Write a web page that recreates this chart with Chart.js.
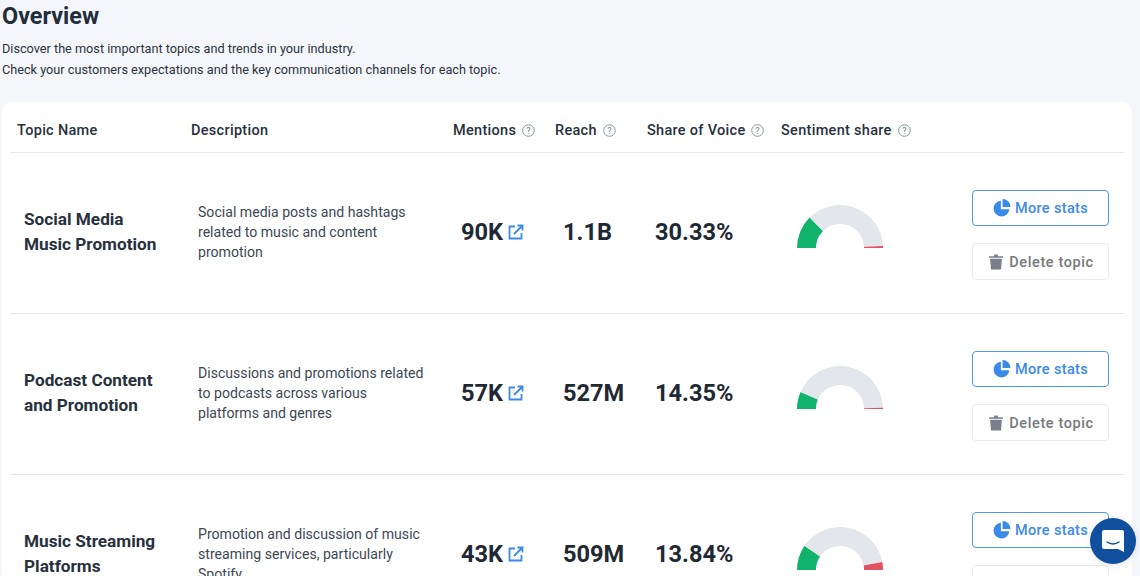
<!DOCTYPE html>
<html>
<head>
<meta charset="utf-8">
<title>Overview</title>
<script src="https://cdn.jsdelivr.net/npm/chart.js@4"></script>
<style>
  html, body { margin: 0; padding: 0; }
  body { width: 1140px; height: 576px; overflow: hidden; position: relative; background: #f5f6fa; font-family: Roboto, sans-serif; color: #1f2933; }
  h1 { position: absolute; left: 2px; top: 1px; margin: 0; font-size: 23.4px; line-height: 30px; font-weight: 700; color: #1f2d3d; }
  .intro { position: absolute; left: 2px; top: 38px; font-size: 12.7px; line-height: 21px; color: #2a3441; }
  .card { position: absolute; left: 2px; top: 102px; width: 1130px; height: 480px; background: #fff; border-radius: 10px; }
  .abs { position: absolute; white-space: nowrap; }
  .th { top: 122px; font-size: 14.5px; line-height: 17px; font-weight: 500; letter-spacing: .3px; color: #27313d; display: flex; align-items: center; gap: 6px; }
  .rule { position: absolute; left: 10px; width: 1114px; height: 1px; background: #e4e7eb; }
  .name { left: 24px; font-size: 17.2px; line-height: 24.5px; font-weight: 700; color: #27313d; }
  .desc { left: 198px; font-size: 14.1px; line-height: 20px; color: #3d4854; }
  .num { font-size: 23.6px; line-height: 28px; font-weight: 700; color: #1f2933; }
  .btn { left: 972px; width: 137px; box-sizing: border-box; border-radius: 4px; background: #fff; display: flex; align-items: center; justify-content: center; font-size: 14.5px; font-weight: 500; }
  .more { height: 36px; gap: 4px; letter-spacing: .35px; border: 1px solid #4a9af0; color: #3b8ae8; }
  .del { height: 37px; gap: 6px; padding: 1px 0 0 2px; letter-spacing: .6px; border: 1px solid #e9ecef; color: #77797c; }
  .gauge { position: absolute; left: 797px; width: 86px; height: 43px; }
  .chat { position: absolute; left: 1090px; top: 518px; width: 46px; height: 46px; border-radius: 50%; background: #0f4f9e; display: flex; align-items: center; justify-content: center; box-shadow: 0 1px 6px rgba(0,0,0,.12); }
</style>
</head>
<body>
<h1>Overview</h1>
<div class="intro">Discover the most important topics and trends in your industry.<br>Check your customers expectations and the key communication channels for each topic.</div>
<div class="card"></div>
<div id="table"></div>
<div class="chat">
  <svg width="24" height="24" viewBox="0 0 24 24"><path d="M3 1h18a2 2 0 0 1 2 2v20l-6-3H3a2 2 0 0 1-2-2V3a2 2 0 0 1 2-2z" fill="#fff"/><path d="M6 13c3.500 2.600 8.500 2.600 12 0" fill="none" stroke="#0f4f9e" stroke-width="1.500" stroke-linecap="round"/></svg>
</div>
<script>
  /* ── Data ────────────────────────────────────────────────── */
  const headers = ['Topic Name', 'Description', 'Mentions', 'Reach', 'Share of Voice', 'Sentiment share'];
  const topics = [
    ['Social Media', 'Music Promotion'],
    ['Podcast Content', 'and Promotion'],
    ['Music Streaming', 'Platforms']
  ];
  const descriptions = [
    ['Social media posts and hashtags', 'related to music and content', 'promotion'],
    ['Discussions and promotions related', 'to podcasts across various', 'platforms and genres'],
    ['Promotion and discussion of music', 'streaming services, particularly', 'Spotify']
  ];
  const mentions = ['90K', '57K', '43K'];
  const reach = ['1.1B', '527M', '509M'];
  const shareOfVoice = ['30.33%', '14.35%', '13.84%'];
  const sentimentLabels = ['Positive', 'Neutral', 'Negative'];
  const positive = [25, 13, 19];
  const neutral = [73.5, 86, 75];
  const negative = [1.5, 1, 6];

  /* ── Icons ───────────────────────────────────────────────── */
  const helpIcon = '<svg width="13" height="13" viewBox="0 0 13 13"><circle cx="6.500" cy="6.500" r="5.800" fill="none" stroke="#8c96a3" stroke-width="1"/><text x="6.500" y="9.600" text-anchor="middle" font-size="9" font-family="Roboto" fill="#8c96a3">?</text></svg>';
  const linkIcon = '<svg width="16" height="16" viewBox="0 0 16 16" fill="none" stroke="#3b8ae8" stroke-width="1.800"><path d="M7 2.500H1.500v12h12V9"/><path d="M6 10l8-8M9.500 1.500h5v5"/></svg>';
  const pieIcon = '<svg width="18" height="18" viewBox="0 0 16 16" fill="#3b8ae8"><path d="M7 1.500a7 7 0 1 0 7.500 7.500H7z"/><path d="M8.500 0a7 7 0 0 1 7 7h-7z"/></svg>';
  const trashIcon = '<svg width="14" height="16" viewBox="0 0 13 15" fill="#77808a"><path d="M0 2h4.500l.5-1.500h3L8.500 2H13v1.500H0z"/><path d="M1 4.500h11l-.8 10H1.800z"/></svg>';

  /* ── Table ───────────────────────────────────────────────── */
  const table = document.getElementById('table');
  const headerLeft = [17, 191, 453, 555, 647, 781];
  const rowTop = [152, 313, 474];

  function add(cls, left, top, html) {
    const el = document.createElement('div');
    el.className = 'abs ' + cls;
    if (left !== null) el.style.left = left + 'px';
    if (top !== null) el.style.top = top + 'px';
    el.innerHTML = html;
    table.appendChild(el);
    return el;
  }

  headers.forEach((h, i) => add('th', headerLeft[i], null, h + (i > 1 ? helpIcon : '')));

  rowTop.forEach((y, i) => {
    const rule = document.createElement('div');
    rule.className = 'rule';
    rule.style.top = y + 'px';
    table.appendChild(rule);

    add('name', null, y + 55, topics[i].join('<br>'));
    add('desc', null, y + 49.5, descriptions[i].join('<br>'));
    const m = add('num', 461, y + 66, mentions[i] + ' ');
    m.style.display = 'flex';
    m.style.alignItems = 'center';
    m.style.gap = '5px';
    m.insertAdjacentHTML('beforeend', linkIcon);
    add('num', 563, y + 66, reach[i]);
    add('num', 655, y + 66, shareOfVoice[i]);
    add('btn more', null, y + 38, pieIcon + 'More stats');
    add('btn del', null, y + 91, trashIcon + 'Delete topic');

    const canvas = document.createElement('canvas');
    canvas.className = 'gauge';
    canvas.style.top = (y + 53) + 'px';
    canvas.width = 86;
    canvas.height = 43;
    table.appendChild(canvas);
    new Chart(canvas, {
      type: 'doughnut',
      data: {
        labels: sentimentLabels,
        datasets: [{
          data: [positive[i], neutral[i], negative[i]],
          backgroundColor: ['#10b36b', '#e3e6ea', '#e0525f'],
          borderWidth: 0
        }]
      },
      options: {
        responsive: false,
        rotation: -90,
        circumference: 180,
        cutout: '56%',
        animation: false,
        plugins: { legend: { display: false }, tooltip: { enabled: false } }
      }
    });
  });
</script>
</body>
</html>
